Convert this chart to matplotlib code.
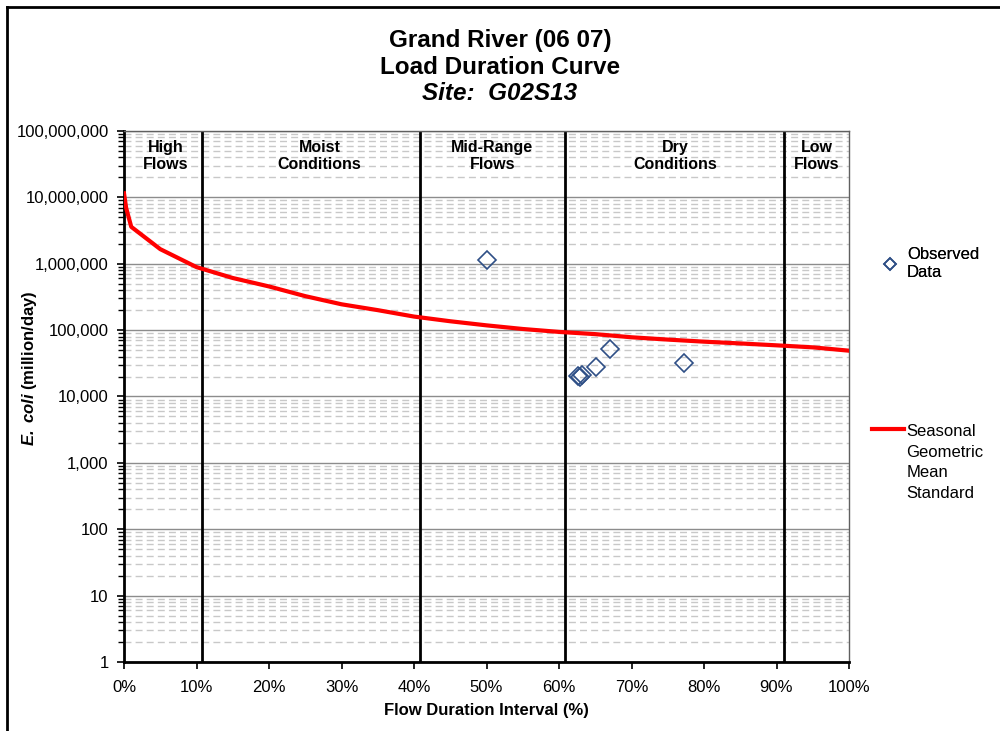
import numpy as np
import matplotlib
matplotlib.use('Agg')
import matplotlib.pyplot as plt
from matplotlib.lines import Line2D
from matplotlib.ticker import FixedLocator, FuncFormatter, LogLocator, NullFormatter

plt.rcParams['font.family'] = ['Liberation Sans', 'DejaVu Sans']
plt.rcParams['mathtext.fontset'] = 'custom'
plt.rcParams['mathtext.bfit'] = 'Liberation Sans:italic:bold'
plt.rcParams['mathtext.bf'] = 'Liberation Sans:bold'
plt.rcParams['mathtext.it'] = 'Liberation Sans:italic'
plt.rcParams['mathtext.rm'] = 'Liberation Sans'

# kurva standar (persentil durasi aliran vs beban)
curve_pct = [0, 0.3, 1, 5, 10, 15, 20, 25, 30, 35, 40, 45, 50, 55, 60,
             65, 70, 75, 80, 85, 90, 95, 100]
curve_load = [11.5e6, 6.9e6, 3.6e6, 1.66e6, 890e3, 610e3, 455e3, 325e3, 245e3,
              200e3, 160e3, 136e3, 118e3, 104e3, 94e3, 87e3, 78e3, 72e3,
              67e3, 63e3, 59e3, 55e3, 49e3]

# data observasi
obs_pct = [50.0, 62.6, 62.9, 63.2, 65.1, 67.0, 77.2]
obs_load = [1.13e6, 20.5e3, 20.0e3, 20.8e3, 27.7e3, 51.6e3, 31.7e3]

# batas zona dan labelnya
zone_edges = [10.7, 40.8, 60.8, 91.0]
zone_centers = [5.7, 27.0, 50.8, 76.0, 95.5]
zone_labels = ["High\nFlows", "Moist\nConditions", "Mid-Range\nFlows",
               "Dry\nConditions", "Low\nFlows"]

fig = plt.figure(figsize=(10, 7.31), dpi=100)
ax = fig.add_axes([0.124, 0.0944, 0.725, 0.7264])

ax.set_yscale('log')
ax.set_ylim(1, 1e8)
ax.set_xlim(0, 100)

# grid
ax.yaxis.set_major_locator(LogLocator(base=10, numticks=20))
ax.yaxis.set_minor_locator(LogLocator(base=10, subs=np.arange(2, 10), numticks=20))
ax.yaxis.set_minor_formatter(NullFormatter())
ax.yaxis.set_major_formatter(FuncFormatter(lambda v, p: f"{int(round(v)):,}"))
ax.grid(True, which='major', axis='y', color='#8c8c8c', lw=1.0)
ax.grid(True, which='minor', axis='y', color='#c8c8c8', lw=1.0, ls=(0, (5, 3)))
ax.set_axisbelow(True)

ax.xaxis.set_major_locator(FixedLocator(np.arange(0, 101, 10)))
ax.xaxis.set_major_formatter(FuncFormatter(lambda v, p: f"{int(v)}%"))

ax.tick_params(axis='both', which='major', direction='out', length=5, width=1.2,
               labelsize=12, color='black')
ax.tick_params(axis='y', which='minor', direction='out', length=4, width=1.0)
ax.tick_params(axis='x', pad=8)
ax.tick_params(axis='y', pad=6)

for s in ['left', 'bottom']:
    ax.spines[s].set_linewidth(2)
for s in ['right', 'top']:
    ax.spines[s].set_linewidth(1)
    ax.spines[s].set_color('#606060')

# garis zona
for e in zone_edges:
    ax.axvline(e, color='black', lw=2, zorder=2)

for c, lab in zip(zone_centers, zone_labels):
    ax.text(c, 4.2e7, lab, ha='center', va='center', fontsize=11.5,
            fontweight='bold', linespacing=1.15, zorder=3)

line, = ax.plot(curve_pct, curve_load, color='#ff0000', lw=3, zorder=4,
                label='Seasonal\nGeometric\nMean\nStandard')
pts, = ax.plot(obs_pct, obs_load, ls='none', marker='D', ms=9, mfc='none',
               mec='#2e4f86', mew=1.2, zorder=5, label='Observed\nData')

# legenda
leg1 = fig.legend(handles=[pts], loc='upper left', bbox_to_anchor=(0.867, 0.682),
                  frameon=False, fontsize=12, handlelength=1.0, handletextpad=0.5,
                  markerscale=0.65)
fig.add_artist(leg1)
leg2 = fig.legend(handles=[line], loc='upper left', bbox_to_anchor=(0.857, 0.44),
                  frameon=False, fontsize=12, handlelength=1.9, handletextpad=0.15,
                  labelspacing=0)
for t in leg2.get_texts():
    t.set_linespacing(1.45)
# garis legenda sejajar dengan baris pertama teks
h = leg2.legend_handles[0]
h.set_ydata(np.asarray(h.get_ydata()) + 24.5)

ax.set_xlabel("Flow Duration Interval (%)", fontsize=12, fontweight='bold', labelpad=6)
fig.text(0.03, 1 - 368 / 731, r"$\mathbfit{E.\ coli}$ (million/day)", rotation=90,
         ha='center', va='center', fontsize=12, fontweight='bold')

fig.text(0.5, 1 - 41 / 731, "Grand River (06 07)", ha='center', va='center',
         fontsize=17.5, fontweight='bold')
fig.text(0.5, 1 - 67 / 731, "Load Duration Curve", ha='center', va='center',
         fontsize=17.5, fontweight='bold')
fig.text(0.5, 1 - 94 / 731, "Site:  G02S13", ha='center', va='center',
         fontsize=17.5, fontweight='bold', style='italic')

# bingkai luar
fig.add_artist(Line2D([0.007, 0.007], [0, 0.991], transform=fig.transFigure,
                      color='black', lw=2))
fig.add_artist(Line2D([0.007, 1], [0.991, 0.991], transform=fig.transFigure,
                      color='black', lw=2))

fig.savefig('out.png', dpi=100)
